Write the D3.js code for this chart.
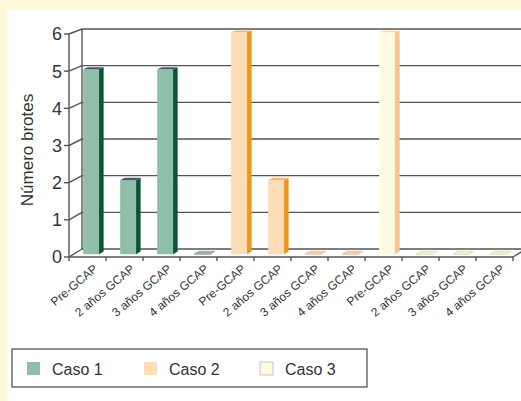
<!DOCTYPE html>
<html><head><meta charset="utf-8">
<script src="https://cdn.jsdelivr.net/npm/d3@7"></script>
<style>body{margin:0;background:#fdf9d9;}svg{display:block;}</style>
</head><body>
<script>
const periods = ["Pre-GCAP","2 años GCAP","3 años GCAP","4 años GCAP"];
const cases = ["Caso 1","Caso 2","Caso 3"];
const caso1 = [5,2,5,0];
const caso2 = [6,2,0,0];
const caso3 = [6,0,0,0];
const yTicks = [0,1,2,3,4,5,6];

const seriesVals = [caso1, caso2, caso3];
const colors = [
  {face:"#8fbfa9", side:"#0c5532", top:"#4a5570", flat:"#9db9a8", flatEdge:"#7fa090"},
  {face:"#fddcb6", side:"#f0961f", top:"#f6b86a", flat:"#f3d2b4", flatEdge:"#e6b890"},
  {face:"#fffbe0", side:"#f8c58c", top:"#fbdcae", flat:"#f4f1d6", flatEdge:"#d9d4a8"}
];
const data = [];
cases.forEach((c,ci)=>periods.forEach((p,pi)=>data.push({c:ci,label:p,v:seriesVals[ci][pi],i:ci*4+pi})));

const W=521,H=401;
const svg=d3.select("body").append("svg").attr("width",W).attr("height",H);
svg.append("rect").attr("x",7).attr("y",10).attr("width",W-7).attr("height",H-10).attr("fill","#ffffff");

const x = d3.scaleBand().domain(d3.range(12)).range([69,513]).padding(0);
const yFront = d3.scaleLinear().domain([0,6]).range([257,34]);
const yBack = d3.scaleLinear().domain([0,6]).range([249,29]);
const DX=13;
const px = (xv,d)=>xv+DX*d;
const py = (v,d)=>yFront(v)+(yBack(v)-yFront(v))*d;

const g=svg.append("g");
const lineC="#555", lw=1.4;
yTicks.forEach(t=>{
  g.append("line").attr("x1",82).attr("x2",W).attr("y1",yBack(t)).attr("y2",yBack(t)).attr("stroke",lineC).attr("stroke-width",lw);
  g.append("line").attr("x1",69).attr("x2",82).attr("y1",yFront(t)).attr("y2",yBack(t)).attr("stroke",lineC).attr("stroke-width",lw);
  g.append("line").attr("x1",64).attr("x2",69).attr("y1",yFront(t)).attr("y2",yFront(t)).attr("stroke",lineC).attr("stroke-width",lw);
});
g.append("line").attr("x1",82).attr("x2",82).attr("y1",yBack(6)).attr("y2",yBack(0)).attr("stroke",lineC).attr("stroke-width",lw);
g.append("line").attr("x1",69).attr("x2",69).attr("y1",yFront(6)).attr("y2",yFront(0)).attr("stroke",lineC).attr("stroke-width",lw);
g.append("line").attr("x1",69).attr("x2",513).attr("y1",yFront(0)).attr("y2",yFront(0)).attr("stroke",lineC).attr("stroke-width",lw);
g.append("line").attr("x1",513).attr("x2",526).attr("y1",yFront(0)).attr("y2",yBack(0)).attr("stroke",lineC).attr("stroke-width",lw);
d3.range(13).forEach(i=>{
  const xv = i<12 ? x(i) : 513;
  g.append("line").attr("x1",xv).attr("x2",xv).attr("y1",yFront(0)).attr("y2",yFront(0)+4).attr("stroke",lineC).attr("stroke-width",lw);
});

const d0=0.35,d1=0.7;
const bw=x.bandwidth();
data.forEach(dd=>{
  const c=colors[dd.c];
  const xl=x(dd.i)+bw*0.26, xr=xl+bw*0.43;
  if(dd.v===0){
    const pts=[[px(xl,d0),py(0,d0)],[px(xr,d0),py(0,d0)],[px(xr,d1),py(0,d1)],[px(xl,d1),py(0,d1)]];
    g.append("polygon").attr("points",pts.map(p=>p.join(",")).join(" ")).attr("fill",c.flat).attr("stroke",c.flatEdge).attr("stroke-width",0.8);
    return;
  }
  g.append("polygon").attr("points",[[px(xl,d0),py(dd.v,d0)],[px(xr,d0),py(dd.v,d0)],[px(xr,d0),py(0,d0)],[px(xl,d0),py(0,d0)]].map(p=>p.join(",")).join(" ")).attr("fill",c.face);
  g.append("polygon").attr("points",[[px(xr,d0),py(dd.v,d0)],[px(xr,d1),py(dd.v,d1)],[px(xr,d1),py(0,d1)],[px(xr,d0),py(0,d0)]].map(p=>p.join(",")).join(" ")).attr("fill",c.side);
  g.append("polygon").attr("points",[[px(xl,d0),py(dd.v,d0)],[px(xr,d0),py(dd.v,d0)],[px(xr,d1),py(dd.v,d1)],[px(xl,d1),py(dd.v,d1)]].map(p=>p.join(",")).join(" ")).attr("fill",c.top);
});

const font="'Liberation Sans', Arial, sans-serif";
yTicks.forEach(t=>{
  svg.append("text").attr("x",62).attr("y",yFront(t)).attr("dy","0.36em").attr("text-anchor","end")
    .attr("font-family",font).attr("font-size",18).attr("fill","#333").text(t);
});
svg.append("text").attr("transform","translate(33,150) rotate(-90)").attr("text-anchor","middle")
  .attr("font-family",font).attr("font-size",17).attr("fill","#333").text("Número brotes");

data.forEach(dd=>{
  const cx=x(dd.i)+bw/2+11;
  svg.append("text").attr("transform",`translate(${cx},${yFront(0)+13}) rotate(-40)`).attr("text-anchor","end")
    .attr("font-family",font).attr("font-size",12).attr("fill","#333").text(dd.label);
});

const lg=svg.append("g");
lg.append("rect").attr("x",12).attr("y",349).attr("width",355).attr("height",38).attr("fill","#fff").attr("stroke","#555").attr("stroke-width",1.3);
const lx=[27,144,260];
cases.forEach((c,i)=>{
  lg.append("rect").attr("x",lx[i]).attr("y",362).attr("width",13).attr("height",13)
    .attr("fill",colors[i].face).attr("stroke",i===2?"#bbb":"none").attr("stroke-width",0.8);
  lg.append("text").attr("x",lx[i]+25).attr("y",375).attr("font-family",font).attr("font-size",16).attr("fill","#333").text(c);
});
</script>
</body></html>
